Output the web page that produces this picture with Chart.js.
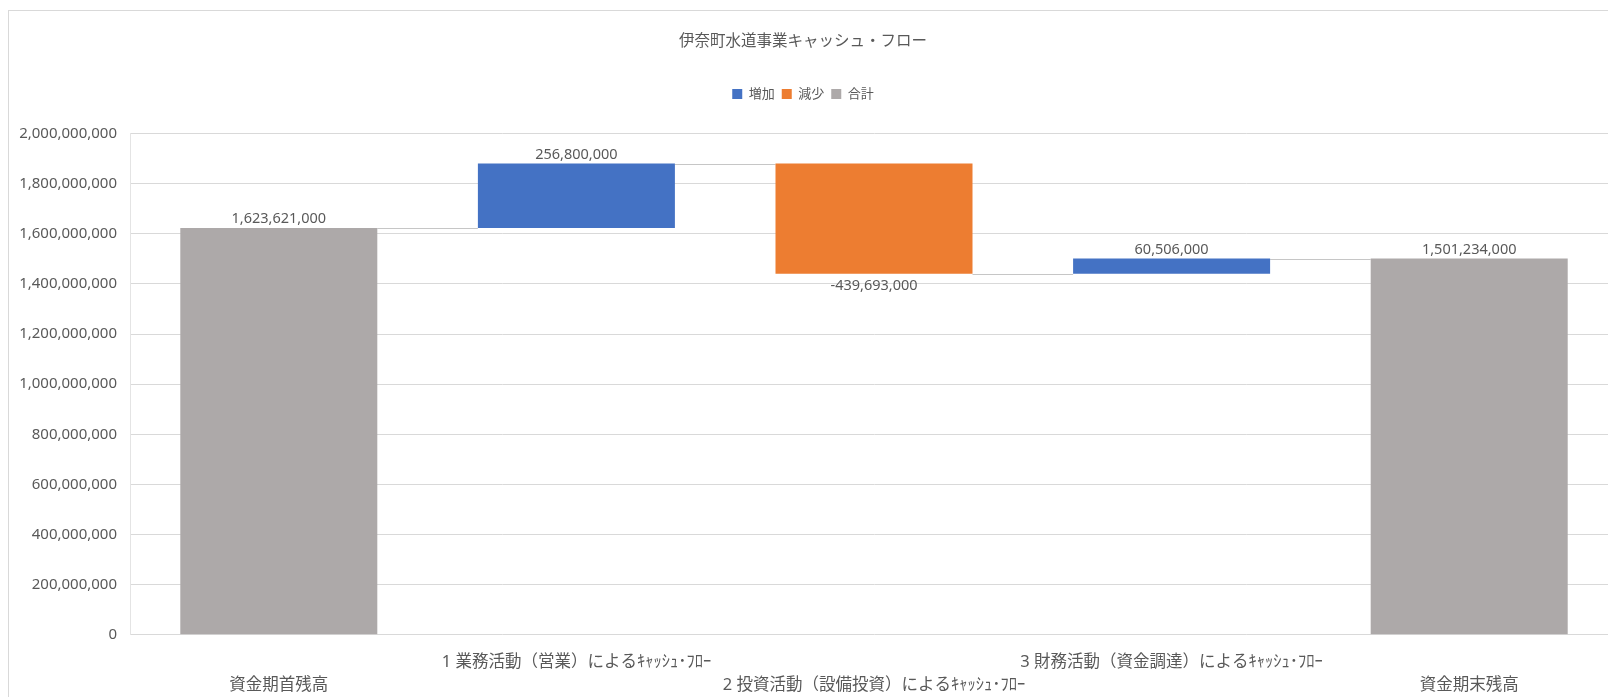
<!DOCTYPE html>
<html>
<head>
<meta charset="utf-8">
<script src="https://cdn.jsdelivr.net/npm/chart.js@4.4.1/dist/chart.umd.min.js"></script>
<style>
  html, body { margin: 0; padding: 0; background: #fff; overflow: hidden; width: 1608px; height: 697px; }
  #frame { position: absolute; left: 8px; top: 10px; width: 1700px; height: 720px; border: 1px solid #d9d9d9; box-sizing: border-box; }
  #wrap { position: absolute; left: 0; top: 0; width: 1640px; height: 697px; }
</style>
</head>
<body>
<div id="frame"></div>
<div id="wrap"><canvas id="chart"></canvas></div>
<script>
// data
const categories = [
  '資金期首残高',
  '1 業務活動（営業）によるｷｬｯｼｭ･ﾌﾛｰ',
  '2 投資活動（設備投資）によるｷｬｯｼｭ･ﾌﾛｰ',
  '3 財務活動（資金調達）によるｷｬｯｼｭ･ﾌﾛｰ',
  '資金期末残高'
];
const changes = [1623621000, 256800000, -439693000, 60506000, 1501234000];
const kinds = ['total', 'up', 'down', 'up', 'total'];
const seriesNames = { up: '増加', down: '減少', total: '合計' };
const seriesColors = { up: '#4472C4', down: '#ED7D31', total: '#ADA9A9' };

const yMax = 2000000000;
const yStep = 200000000;

const FONT = "'Noto Sans', 'Noto Sans CJK JP', sans-serif";
const TEXT = '#595959';

// floating [start, end] ranges for the waterfall
let running = 0;
const ranges = changes.map((v, i) => {
  if (kinds[i] === 'total') { running = v; return [0, v]; }
  const start = running;
  running += v;
  return [start, running];
});

const datasets = ['up', 'down', 'total'].map(k => ({
  label: seriesNames[k],
  data: ranges.map((r, i) => kinds[i] === k ? r : null),
  backgroundColor: seriesColors[k],
  grouped: false,
  categoryPercentage: 1,
  barPercentage: 0.662
}));

const fmt = v => v.toLocaleString('en-US');

// extra room under the legend, like the excel chart
const legendGap = {
  id: 'legendGap',
  beforeInit(chart) {
    const fit = chart.legend.fit;
    chart.legend.fit = function () {
      fit.call(this);
      this.height += 23;
    };
  }
};

// connector lines + value labels
const waterfallExtras = {
  id: 'waterfallExtras',
  beforeDatasetsDraw(chart) {
    const ctx = chart.ctx;
    const y = chart.scales.y;
    const bars = [];
    chart.data.datasets.forEach((ds, di) => {
      chart.getDatasetMeta(di).data.forEach((el, i) => {
        if (ds.data[i]) bars[i] = el;
      });
    });
    ctx.save();
    ctx.strokeStyle = '#c6c6c6';
    ctx.lineWidth = 1;
    for (let i = 0; i < bars.length - 1; i++) {
      const py = Math.round(y.getPixelForValue(ranges[i][1])) + 0.5;
      ctx.beginPath();
      ctx.moveTo(bars[i].x + bars[i].width / 2, py);
      ctx.lineTo(bars[i + 1].x - bars[i + 1].width / 2, py);
      ctx.stroke();
    }
    ctx.restore();
  },
  afterDatasetsDraw(chart) {
    const ctx = chart.ctx;
    ctx.save();
    ctx.font = '14.5px ' + FONT;
    ctx.fillStyle = TEXT;
    ctx.textAlign = 'center';
    ctx.textBaseline = 'middle';
    chart.data.datasets.forEach((ds, di) => {
      chart.getDatasetMeta(di).data.forEach((el, i) => {
        if (!ds.data[i]) return;
        const v = changes[i];
        const top = Math.min(el.y, el.base);
        const bottom = Math.max(el.y, el.base);
        ctx.fillText(fmt(v), el.x, v < 0 ? bottom + 12 : top - 9);
      });
    });
    ctx.restore();
  }
};

new Chart(document.getElementById('chart'), {
  type: 'bar',
  data: { labels: categories, datasets },
  options: {
    responsive: true,
    maintainAspectRatio: false,
    animation: false,
    layout: { padding: { left: -12, right: 22, top: 0, bottom: -16 } },
    plugins: {
      title: {
        display: true,
        text: '伊奈町水道事業キャッシュ・フロー',
        color: TEXT,
        font: { family: FONT, size: 15.5, weight: 'normal' },
        padding: { top: 32, bottom: 30 }
      },
      legend: {
        position: 'top',
        labels: {
          boxWidth: 10,
          boxHeight: 10,
          padding: 7,
          color: TEXT,
          font: { family: FONT, size: 13 }
        }
      },
      tooltip: { enabled: false }
    },
    scales: {
      x: {
        grid: { display: false, drawTicks: false },
        border: { display: false },
        ticks: {
          autoSkip: false,
          maxRotation: 0,
          minRotation: 0,
          padding: 16,
          color: TEXT,
          font: { family: FONT, size: 16.5, lineHeight: 1.4 },
          callback: (v, i) => i % 2 === 0 ? ['', categories[i]] : [categories[i], '']
        }
      },
      y: {
        min: 0,
        max: yMax,
        grid: { color: '#d9d9d9', drawTicks: false },
        border: { display: true, color: '#e4e4e4' },
        ticks: {
          stepSize: yStep,
          padding: 13,
          color: TEXT,
          font: { family: FONT, size: 15 },
          callback: v => fmt(v)
        },
        afterFit: s => { s.width = 142; }
      }
    }
  },
  plugins: [legendGap, waterfallExtras]
});
</script>
</body>
</html>
